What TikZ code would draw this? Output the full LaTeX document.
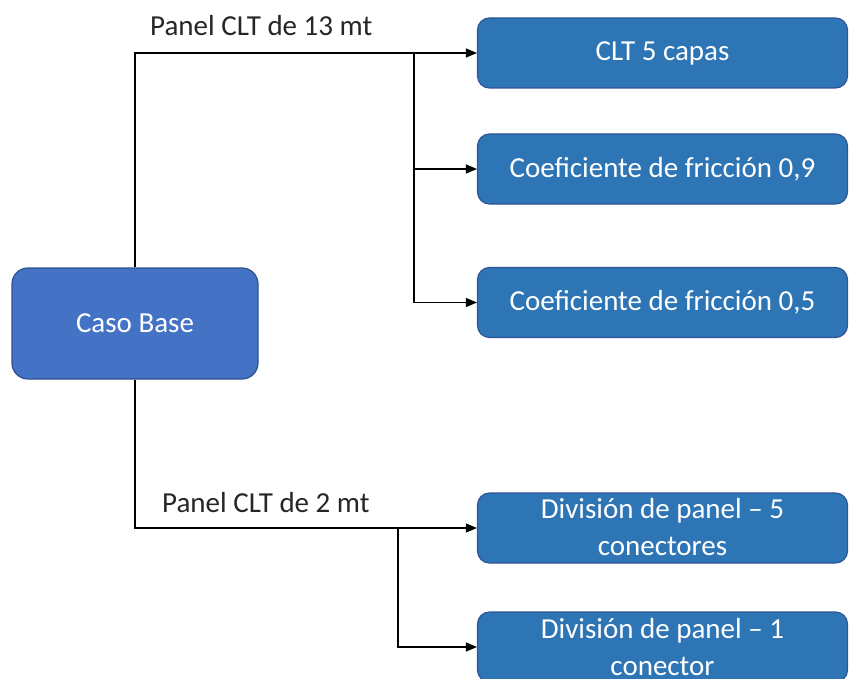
\documentclass[tikz,border=0pt]{standalone}
\usepackage{fontspec}
\setmainfont{Carlito}
\usetikzlibrary{arrows.meta}
\definecolor{basefill}{HTML}{4472C4}
\definecolor{baseedge}{HTML}{2F528F}
\definecolor{boxfill}{HTML}{2E75B6}
\definecolor{boxedge}{HTML}{2F5597}
\tikzset{
  basebox/.style={draw=baseedge, fill=basefill, line width=1.2pt, rounded corners=16pt,
    minimum width=246pt, minimum height=111pt, inner sep=0pt, text=white, font=\fontsize{29}{35}\selectfont},
  leafbox/.style={draw=boxedge, fill=boxfill, line width=1.2pt, rounded corners=12pt,
    minimum width=370pt, minimum height=70pt, inner sep=0pt, text=white, align=center,
    font=\fontsize{29}{37}\selectfont},
  conn/.style={line width=1.2pt, black},
  arr/.style={conn, -{Triangle[length=11pt,width=9pt]}},
  lbl/.style={font=\fontsize{29}{35}\selectfont, text=black!85, inner sep=0pt}
}
\begin{document}
\begin{tikzpicture}[x=1pt,y=-1pt]
\useasboundingbox (0,0) rectangle (853,679);
\clip (0,0) rectangle (853,679);
\node[basebox] (base) at (135,323.5) {Caso Base};
\node[leafbox] (clt) at (662.5,53) {CLT 5 capas};
\node[leafbox] (c09) at (662.5,169) {Coeficiente de fricción 0,9};
\node[leafbox] (c05) at (662.5,302.5) {Coeficiente de fricción 0,5};
\node[leafbox] (d5) at (662.5,528) {};
\node[leafbox] (d1) at (662.5,647) {};
\node[text=white, font=\fontsize{29}{35}\selectfont, inner sep=0pt, anchor=base] (d5a) at (662.5,518) {División de panel – 5};
\node[text=white, font=\fontsize{29}{35}\selectfont, inner sep=0pt, anchor=base] (d5b) at (662.5,555) {conectores};
\node[text=white, font=\fontsize{29}{35}\selectfont, inner sep=0pt, anchor=base] (d1a) at (662.5,638) {División de panel – 1};
\node[text=white, font=\fontsize{29}{35}\selectfont, inner sep=0pt, anchor=base] (d1b) at (662.5,675) {conector};
\coordinate (j1) at (414,53);
\coordinate (j2) at (398,529);
\draw[arr] (base.north) |- (clt.west);
\draw[arr] (j1) |- (c09.west);
\draw[arr] (j1) |- (c05.west);
\draw[arr] (base.south) |- (d5.west);
\draw[arr] (j2) |- (d1.west);
\node[lbl, anchor=base west] (l13) at (150,36) {Panel CLT de 13 mt};
\node[lbl, anchor=base west] (l2) at (162,512) {Panel CLT de 2 mt};
\end{tikzpicture}
\end{document}
